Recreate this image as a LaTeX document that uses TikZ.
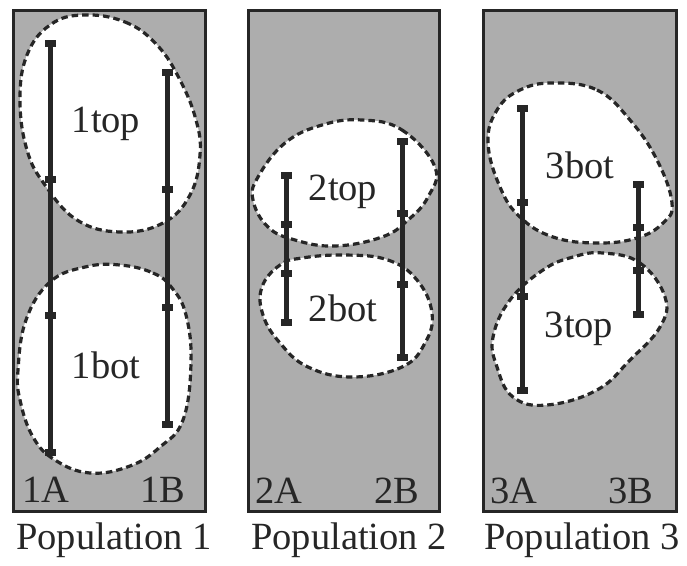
\documentclass[tikz,border=0pt]{standalone}
\usepackage{fontspec}
\setmainfont{Liberation Serif}
\definecolor{ink}{HTML}{262626}
\definecolor{panelgray}{HTML}{ADADAD}
\newcommand\myebar[5]{%
  \draw[bar] (#1,#2) -- (#1,#3);
  \foreach \yy in {#2,#3,#4,#5} \fill[ink] (#1-5.5,\yy-3.5) rectangle (#1+5.5,\yy+3.5);
}
\begin{document}
\begin{tikzpicture}[x=1pt,y=-1pt,
  panel/.style={fill=panelgray, draw=ink, line width=3pt},
  blob/.style={fill=white, draw=ink, line width=3.2pt, dash pattern=on 6.5pt off 4pt},
  bar/.style={draw=ink, line width=5pt},
  lbl/.style={font=\fontsize{38.5}{40}\selectfont, text=ink, anchor=base, inner sep=0pt},
]
\useasboundingbox (0,0) rectangle (687,565);
% panels
\draw[panel] (13,10) rectangle (205,511);
\draw[panel] (248,10) rectangle (439,511);
\draw[panel] (483,10) rectangle (676,511);

% population 1 blobs
\draw[blob] plot[smooth cycle, tension=0.7] coordinates {
  (83,15) (125,22) (157,45) (180,80) (196,120) (200,155) (190,195) (163,223)
  (120,232) (77,220) (45,185) (27,150) (20,100) (27,55) (50,25)};
\draw[blob] plot[smooth cycle, tension=0.7] coordinates {
  (120,265) (153,273) (172,288) (186,315) (191,363) (183,420) (160,447) (130,466)
  (90,473) (55,460) (33,437) (20,400) (18,370) (26,320) (50,282) (85,267)};

% population 2 blobs
\draw[blob] plot[smooth cycle, tension=0.7] coordinates {
  (362,120) (402,130) (435,167) (428,197) (408,220) (382,237) (335,246)
  (295,240) (268,227) (253,200) (258,177) (285,143) (322,125)};
\draw[blob] plot[smooth cycle, tension=0.7] coordinates {
  (345,255) (388,260) (417,280) (432,313) (425,343) (402,367) (352,377)
  (308,367) (280,343) (263,315) (262,287) (280,265) (302,258)};

% population 3 blobs
\draw[blob] plot[smooth cycle, tension=0.7] coordinates {
  (553,83) (597,90) (630,120) (657,160) (672,203) (663,223) (637,238) (597,243)
  (553,237) (520,217) (500,187) (488,143) (497,110) (520,90)};
\draw[blob] plot[smooth cycle, tension=0.7] coordinates {
  (603,253) (640,263) (665,297) (660,327) (630,360) (597,390) (547,405)
  (513,397) (497,367) (493,337) (510,300) (543,270) (573,257)};

% error bars
\myebar{50}{43}{452}{179}{315}
\myebar{167}{72}{424}{189}{307}
\myebar{286}{175}{322}{224}{273}
\myebar{402}{141}{357}{213}{284}
\myebar{522}{108}{390}{202}{296}
\myebar{638}{184}{314}{227}{270}

% blob labels
\node[lbl] (t1top) at (106,132) {1top};
\node[lbl] (t1bot) at (106,378) {1bot};
\node[lbl] (t2top) at (343,200) {2top};
\node[lbl] (t2bot) at (343,321) {2bot};
\node[lbl] (t3bot) at (580,178) {3bot};
\node[lbl] (t3top) at (579,337) {3top};

% bar labels
\node[lbl] (l1A) at (46,502) {1A};
\node[lbl] (l1B) at (163,502) {1B};
\node[lbl] (l2A) at (279,503) {2A};
\node[lbl] (l2B) at (397,503) {2B};
\node[lbl] (l3A) at (514,503) {3A};
\node[lbl] (l3B) at (631,503) {3B};

% population labels
\node[lbl] (p1) at (114,549) {Population 1};
\node[lbl] (p2) at (349,549) {Population 2};
\node[lbl] (p3) at (582,549) {Population 3};
\end{tikzpicture}
\end{document}
